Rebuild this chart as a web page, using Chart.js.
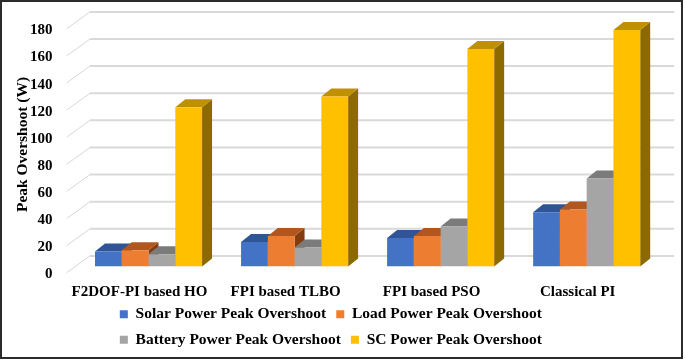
<!DOCTYPE html>
<html>
<head>
<meta charset="utf-8">
<script src="https://cdn.jsdelivr.net/npm/chart.js@4.4.1/dist/chart.umd.min.js"></script>
<style>
  html, body { margin: 0; padding: 0; background: #fff; }
  #wrap { width: 685px; height: 360px; position: relative; }
</style>
</head>
<body>
<div id="wrap"><canvas id="overshootChart"></canvas></div>
<script>
var controllers = ['F2DOF-PI based HO', 'FPI based TLBO', 'FPI based PSO', 'Classical PI'];
var solarOvershoot = [11, 18, 21, 40];
var loadOvershoot = [12, 22.5, 22.5, 42];
var batteryOvershoot = [9, 14, 29.5, 65];
var scOvershoot = [117.5, 125.5, 160.5, 174.5];
var seriesNames = ['Solar Power Peak Overshoot', 'Load Power Peak Overshoot', 'Battery Power Peak Overshoot', 'SC Power Peak Overshoot'];
var yTicks = [0, 20, 40, 60, 80, 100, 120, 140, 160, 180];

var frontColors = ['#4472C4', '#ED7D31', '#A5A5A5', '#FFC000'];
var topColors = ['#2F5597', '#B0561E', '#7B7B7B', '#BF9000'];
var sideColors = ['#264478', '#843C0C', '#6B6B6B', '#8C6A00'];

// depth of the bars and of the back wall, in px
var barDepth = { dx: 10, dy: -8 };
var wallBack = { dx: 14.5, dy: -10.6 };
var wallFront = { dx: -8.8, dy: 6.2 };
var legendWrapWidth = 470; // two entries per legend row, like the original

const serif = "'Liberation Serif', 'Times New Roman', serif";
Chart.defaults.color = '#000';
Chart.defaults.font.family = serif;
Chart.defaults.font.weight = 'bold';
Chart.defaults.font.size = 15;

const fake3d = {
    id: 'fake3d',
    beforeLayout(chart) {
        const lg = chart.legend;
        if (lg && !lg.__twoRows) {
            const fitRows = lg._fitRows;
            lg._fitRows = function () {
                const full = this.maxWidth;
                this.maxWidth = Math.min(full, legendWrapWidth);
                const h = fitRows.apply(this, arguments);
                this.maxWidth = full;
                return h;
            };
            lg.__twoRows = true;
        }
    },
    beforeDatasetsDraw(chart) {
        const ctx = chart.ctx;
        const ys = chart.scales.y;
        const area = chart.chartArea;
        ctx.save();
        // back wall grid + diagonals to the front
        yTicks.forEach(function (v) {
            const y = ys.getPixelForValue(v);
            ctx.beginPath();
            ctx.strokeStyle = '#d6d6d6';
            ctx.lineWidth = 1;
            ctx.moveTo(area.left + wallFront.dx, y + wallFront.dy);
            ctx.lineTo(area.left + wallBack.dx, y + wallBack.dy);
            ctx.stroke();
            ctx.beginPath();
            ctx.strokeStyle = '#d9d9d9';
            ctx.lineWidth = 2;
            ctx.moveTo(area.left + wallBack.dx, y + wallBack.dy);
            ctx.lineTo(area.right + wallBack.dx, y + wallBack.dy);
            ctx.stroke();
        });
        // side and top faces, group by group from left to right
        const metas = chart.getSortedVisibleDatasetMetas().slice().sort((a, b) => a.index - b.index);
        for (let i = 0; i < controllers.length; i++) {
            metas.forEach(function (m) {
                const bar = m.data[i];
                const l = bar.x - bar.width / 2, r = bar.x + bar.width / 2;
                const d = m.index;
                ctx.fillStyle = sideColors[d];
                ctx.beginPath();
                ctx.moveTo(r, bar.y);
                ctx.lineTo(r + barDepth.dx, bar.y + barDepth.dy);
                ctx.lineTo(r + barDepth.dx, bar.base + barDepth.dy);
                ctx.lineTo(r, bar.base);
                ctx.closePath();
                ctx.fill();
                ctx.fillStyle = topColors[d];
                ctx.beginPath();
                ctx.moveTo(l, bar.y);
                ctx.lineTo(l + barDepth.dx, bar.y + barDepth.dy);
                ctx.lineTo(r + barDepth.dx, bar.y + barDepth.dy);
                ctx.lineTo(r, bar.y);
                ctx.closePath();
                ctx.fill();
            });
        }
        ctx.restore();
    },
    afterDraw(chart) {
        const ctx = chart.ctx;
        ctx.save();
        ctx.strokeStyle = '#2b2b2b';
        ctx.lineWidth = 2;
        ctx.strokeRect(1, 1, 681, 357);
        ctx.restore();
    }
};

const ctx = document.getElementById('overshootChart').getContext('2d');
const chart = new Chart(ctx, {
    type: 'bar',
    data: {
        labels: controllers,
        datasets: [
            { label: seriesNames[0], data: solarOvershoot, backgroundColor: frontColors[0] },
            { label: seriesNames[1], data: loadOvershoot, backgroundColor: frontColors[1] },
            { label: seriesNames[2], data: batteryOvershoot, backgroundColor: frontColors[2] },
            { label: seriesNames[3], data: scOvershoot, backgroundColor: frontColors[3] }
        ]
    },
    options: {
        responsive: true,
        maintainAspectRatio: false,
        animation: false,
        datasets: {
            bar: { barPercentage: 1, categoryPercentage: 0.733, borderWidth: 0 }
        },
        layout: { padding: { top: 22.5, left: 2, right: 25.3, bottom: 2.5 } },
        scales: {
            x: {
                grid: { display: false, drawTicks: false },
                border: { display: false },
                ticks: { padding: 16.5, labelOffset: -9, maxRotation: 0, autoSkip: false },
                afterFit: function (s) {
                    s.height = 30;
                    s.paddingLeft = 0;
                    s.paddingRight = 0;
                }
            },
            y: {
                min: 0,
                max: 180,
                grid: { display: false, drawTicks: false },
                border: { display: false },
                ticks: { stepSize: 20, padding: 23, labelOffset: 8 },
                title: { display: true, text: 'Peak Overshoot (W)', font: { size: 15.5 }, padding: { top: 12, bottom: 0 } },
                afterFit: function (s) {
                    s.width = 73.5;
                    s.paddingTop = 0;
                    s.paddingBottom = 0;
                }
            }
        },
        plugins: {
            legend: {
                position: 'bottom',
                labels: { boxWidth: 8, boxHeight: 8, padding: 10, font: { size: 15.5 } }
            },
            tooltip: { enabled: false }
        }
    },
    plugins: [fake3d]
});
</script>
</body>
</html>
